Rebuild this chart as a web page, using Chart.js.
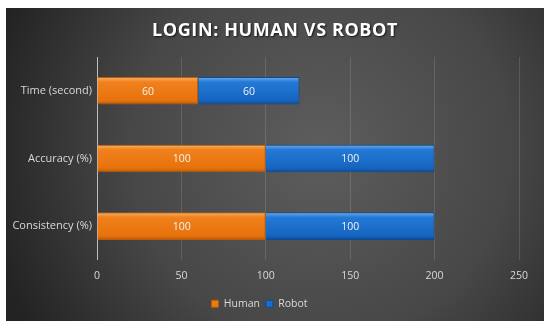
<!DOCTYPE html>
<html>
<head>
<meta charset="utf-8">
<script src="https://cdn.jsdelivr.net/npm/chart.js@4/dist/chart.umd.min.js"></script>
<style>
  html, body { margin: 0; padding: 0; background: #fff; }
  #wrap { width: 550px; height: 328px; position: relative; }
</style>
</head>
<body>
<div id="wrap"><canvas id="chart"></canvas></div>
<script>
// data
const TITLE = 'LOGIN: HUMAN VS ROBOT'
const CATEGORIES = ['Time (second)', 'Accuracy (%)', 'Consistency (%)']
const HUMAN = [60, 100, 100]
const ROBOT = [60, 100, 100]
const X_MAX = 250
const X_STEP = 50

const FONT = "'Open Sans', 'Noto Sans', sans-serif"
const TEXT = '#d9d9d9'

// dark panel with a soft radial light, white frame around it, title on top
const panelBg = {
  id: 'panelBg',
  beforeDraw(chart) {
    const { ctx, width, height } = chart
    ctx.save()
    ctx.fillStyle = '#ffffff'
    ctx.fillRect(0, 0, width, height)
    const x0 = 6, y0 = 8, x1 = 544, y1 = 321
    const g = ctx.createRadialGradient(320, 150, 10, 320, 150, 340)
    g.addColorStop(0, '#5c5c5c')
    g.addColorStop(0.55, '#474747')
    g.addColorStop(1, '#232323')
    ctx.fillStyle = g
    ctx.fillRect(x0, y0, x1 - x0, y1 - y0)

    ctx.font = `bold 18px ${FONT}`
    ctx.letterSpacing = '0.6px'
    ctx.textAlign = 'center'
    ctx.textBaseline = 'middle'
    ctx.shadowColor = 'rgba(0,0,0,0.7)'
    ctx.shadowOffsetX = 1
    ctx.shadowOffsetY = 1
    ctx.shadowBlur = 2
    ctx.fillStyle = '#ffffff'
    ctx.fillText(TITLE, 275, 31)
    ctx.restore()
  }
}

// glossy bars: lighter band on top edge, darker at the bottom, value in the middle
const barShade = {
  id: 'barShade',
  beforeDatasetsDraw(chart) {
    const { ctx } = chart
    chart.data.datasets.forEach((ds, i) => {
      chart.getDatasetMeta(i).data.forEach(el => {
        const top = el.y - el.height / 2, bot = el.y + el.height / 2
        const g = ctx.createLinearGradient(0, top, 0, bot)
        g.addColorStop(0, ds.shade[0])
        g.addColorStop(0.18, ds.shade[1])
        g.addColorStop(0.85, ds.shade[2])
        g.addColorStop(1, ds.shade[3])
        el.options = { ...el.options, backgroundColor: g }
      })
    })
  },
  afterDatasetsDraw(chart) {
    const { ctx } = chart
    ctx.save()
    ctx.font = `10.5px ${FONT}`
    ctx.fillStyle = '#f2f2f2'
    ctx.textAlign = 'center'
    ctx.textBaseline = 'middle'
    chart.data.datasets.forEach((ds, i) => {
      chart.getDatasetMeta(i).data.forEach((el, j) => {
        ctx.fillText(String(ds.data[j]), (el.x + el.base) / 2, el.y + 1)
      })
    })
    ctx.restore()
  }
}

new Chart(document.getElementById('chart'), {
  type: 'bar',
  data: {
    labels: CATEGORIES,
    datasets: [
      { label: 'Human', data: HUMAN, backgroundColor: '#ee7a12',
        borderColor: '#b85a08', borderWidth: 1,
        shade: ['#f9b46a', '#f0811c', '#e8720c', '#b85a08'] },
      { label: 'Robot', data: ROBOT, backgroundColor: '#1a6ecb',
        borderColor: '#0d4a94', borderWidth: 1,
        shade: ['#6fb0ef', '#2479d6', '#1565c0', '#0d4a94'] },
    ],
  },
  plugins: [panelBg, barShade],
  options: {
    indexAxis: 'y',
    responsive: true,
    maintainAspectRatio: false,
    animation: false,
    layout: { padding: { left: 0, right: 31, top: 57, bottom: 9 } },
    categoryPercentage: 0.8,
    barPercentage: 0.51,
    scales: {
      x: {
        stacked: true, min: 0, max: X_MAX,
        ticks: { stepSize: X_STEP, color: TEXT, font: { family: FONT, size: 10.5 }, padding: 10 },
        grid: { color: 'rgba(255,255,255,0.13)', drawTicks: false },
        border: { display: false },
      },
      y: {
        stacked: true,
        afterFit(scale) { scale.width = 97 },
        ticks: { color: TEXT, font: { family: FONT, size: 11 }, padding: 5 },
        grid: { display: false, drawTicks: false },
        border: { display: true, color: '#bdbdbd', width: 1 },
      },
    },
    plugins: {
      title: { display: false },
      legend: {
        position: 'bottom',
        labels: { color: TEXT, font: { family: FONT, size: 10.5 },
                  boxWidth: 7, boxHeight: 7, padding: 6 },
      },
      tooltip: { enabled: false },
    },
  },
})
</script>
</body>
</html>
